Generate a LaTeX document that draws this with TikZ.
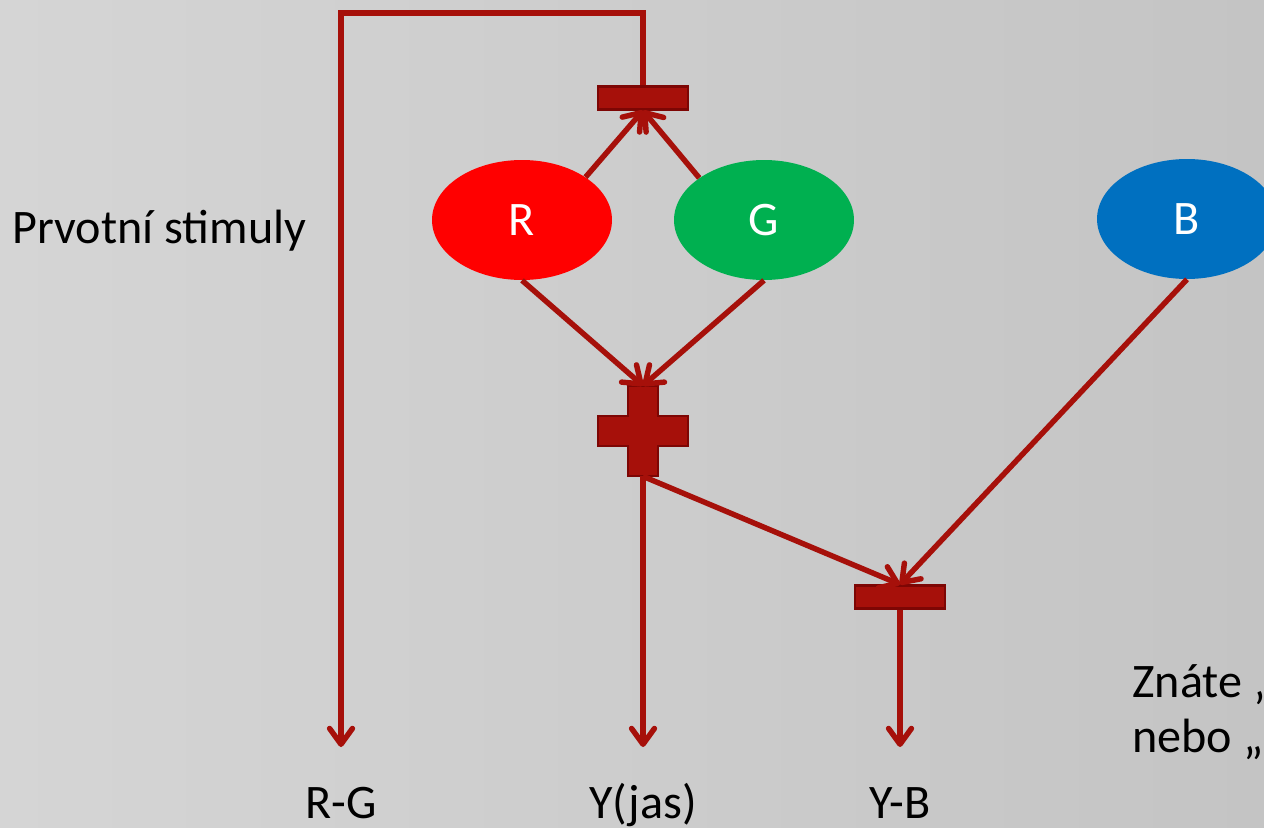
\documentclass[tikz,border=0pt]{standalone}
\usepackage{fontspec}
\setmainfont{Carlito}
\usetikzlibrary{arrows, shapes, positioning, arrows.meta}

\definecolor{wirered}{RGB}{166,16,10}
\definecolor{barborder}{RGB}{125,6,4}
\definecolor{stimR}{RGB}{255,0,0}
\definecolor{stimG}{RGB}{0,176,80}
\definecolor{stimB}{RGB}{0,112,192}

\begin{document}
\begin{tikzpicture}[x=0.02cm, y=-0.02cm,
      every node/.style={font=\fontsize{27.4}{32}\selectfont},
      stim/.style={ellipse, minimum width=3.6cm, minimum height=2.4cm, inner sep=0pt, text=white},
      inhib/.style={rectangle, fill=wirered, draw=barborder, line width=1.2pt, minimum width=1.8cm, minimum height=0.46cm, inner sep=0pt},
      label/.style={inner sep=0pt, text=black},
      wire/.style={draw=wirered, line width=3.1pt},
      >={Straight Barb[length=9pt, width=13pt, line width=3.1pt, round]}]
      \useasboundingbox (0,0) rectangle (1264,828);
      \shade[left color={rgb,255:red,213;green,213;blue,213}, right color={rgb,255:red,196;green,196;blue,196}] (0,0) rectangle (1264,828);
      \clip (0,0) rectangle (1264,828);
      \node (R)[stim, fill=stimR] at (522, 220) {R};
      \node (G)[stim, fill=stimG] at (764, 220) {G};
      \node (B)[stim, fill=stimB] at (1187, 219) {B};
      \node (rg)[inhib] at (643, 98) {};
      \node (yb)[inhib] at (900, 597) {};
      \node (plus)[minimum width=0.6cm, minimum height=1.8cm, inner sep=0pt] at (643, 431) {};
      \filldraw[fill=wirered, draw=barborder, line width=1.2pt] (628,386) -- (658,386) -- (658,416) -- (688,416) -- (688,446) -- (658,446) -- (658,476) -- (628,476) -- (628,446) -- (598,446) -- (598,416) -- (628,416) -- cycle;
      \coordinate (corner) at (341, 13);
      \coordinate (rgout) at (341, 747);
      \coordinate (yout) at (643, 747);
      \coordinate (ybout) at (900, 747);
      \node (stimuly)[label, anchor=base west] at (12, 243) {Prvotní stimuly};
      \node (rgtext)[label, anchor=base] at (341, 818) {R-G};
      \node (ytext)[label, anchor=base] at (643, 818) {Y(jas)};
      \node (ybtext)[label, anchor=base] at (900, 818) {Y-B};
      \node (znate)[label, anchor=base west] at (1132, 697) {Znáte „};
      \node (nebo)[label, anchor=base west] at (1132, 752) {nebo „};
      \draw[wire, ->] (R.34) -- (rg.south) [] {};
      \draw[wire, ->] (G.147) -- (rg.south) [] {};
      \draw[wire, ->] (R.south) -- (plus.north) [] {};
      \draw[wire, ->] (G.south) -- (plus.north) [] {};
      \draw[wire, ->] (plus.south) -- (yout) [] {};
      \draw[wire, ->] (plus.south) -- (yb.north) [] {};
      \draw[wire, ->] (B.south) -- (yb.north) [] {};
      \draw[wire, ->] (yb.south) -- (ybout) [] {};
      \draw[wire, ->] (rg.north) |- (corner) -- (rgout) [] {};
\end{tikzpicture}
\end{document}
